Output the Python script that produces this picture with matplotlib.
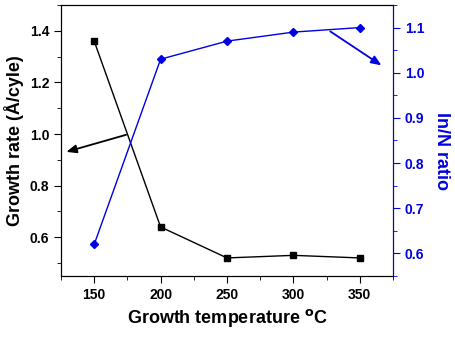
import matplotlib
matplotlib.use('Agg')
import matplotlib.pyplot as plt
from matplotlib.ticker import MultipleLocator

plt.rcParams['font.family'] = ['Liberation Sans', 'DejaVu Sans']
plt.rcParams['font.weight'] = 'bold'

temp = [150, 200, 250, 300, 350]
growth_rate = [1.36, 0.64, 0.52, 0.53, 0.52]
in_n_ratio = [0.62, 1.03, 1.07, 1.09, 1.10]

fig = plt.figure(figsize=(4.56, 3.37), dpi=100)
ax = fig.add_axes([61/456, 1 - 276/337, (393-61)/456, (276-5)/337])
ax2 = ax.twinx()

blue = '#0000e0'
ax.plot(temp, growth_rate, color='black', marker='s', markersize=4, linewidth=1)
ax2.plot(temp, in_n_ratio, color=blue, marker='D', markersize=4, linewidth=1)

ax.set_xlim(125, 375)
ax.set_ylim(0.45, 1.5)
ax2.set_ylim(0.55, 1.15)

ax.xaxis.set_major_locator(MultipleLocator(50))
ax.xaxis.set_minor_locator(MultipleLocator(25))
ax.yaxis.set_major_locator(MultipleLocator(0.2))
ax.yaxis.set_minor_locator(MultipleLocator(0.1))
ax2.yaxis.set_major_locator(MultipleLocator(0.1))
ax2.yaxis.set_minor_locator(MultipleLocator(0.05))

ax.tick_params(axis='both', which='major', direction='out', length=5, labelsize=10)
ax.tick_params(axis='both', which='minor', direction='out', length=3)
ax2.tick_params(axis='y', which='major', direction='out', length=5, labelsize=10,
                colors=blue)
ax2.tick_params(axis='y', which='minor', direction='out', length=3, colors=blue)
ax2.spines['right'].set_color(blue)

ax.set_xlabel('Growth temperature $^{\\mathsf{o}}$C', fontsize=13, fontweight='bold')
ax.set_ylabel('Growth rate (Å/cyle)', fontsize=13, fontweight='bold')
ax2.set_ylabel('In/N ratio', fontsize=13, fontweight='bold', color=blue,
               rotation=270, va='center')
ax2.yaxis.set_label_coords(1.145, 0.46)

ax.annotate('', xy=(127, 0.928), xytext=(176, 1.0),
            arrowprops=dict(arrowstyle='-|>,head_length=0.6,head_width=0.25',
                            color='black', lw=1.3))
ax2.annotate('', xy=(368, 1.013), xytext=(326, 1.095),
             arrowprops=dict(arrowstyle='-|>,head_length=0.6,head_width=0.25',
                             color=blue, lw=1.3))

fig.savefig('out.png', dpi=100)
